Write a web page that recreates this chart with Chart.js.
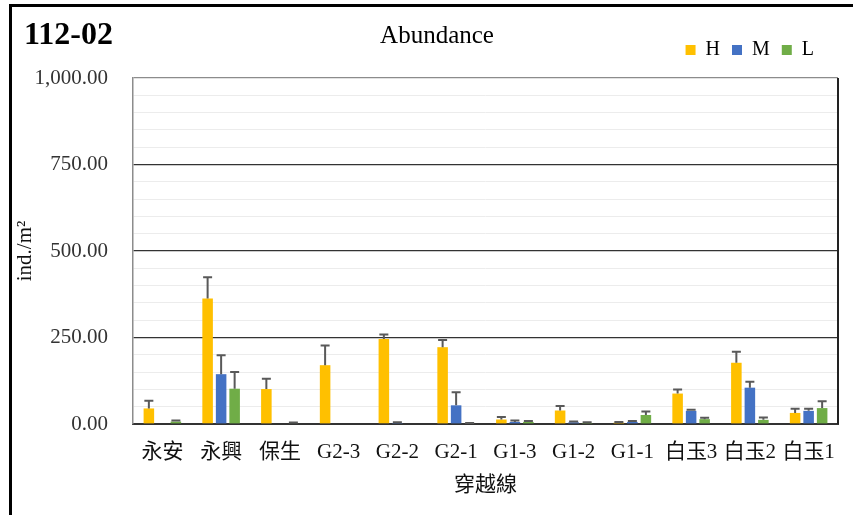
<!DOCTYPE html>
<html>
<head>
<meta charset="utf-8">
<script src="https://cdn.jsdelivr.net/npm/chart.js@4.4.1/dist/chart.umd.min.js"></script>
<style>
  html, body { margin: 0; padding: 0; background: #fff; }
  #wrap { width: 853px; height: 515px; }
</style>
</head>
<body>
<div id="wrap"><canvas id="chart"></canvas></div>
<script>
// data
const panelLabel = '112-02';
const chartTitle = 'Abundance';
const categories = ['永安', '永興', '保生', 'G2-3', 'G2-2', 'G2-1', 'G1-3', 'G1-2', 'G1-1', '白玉3', '白玉2', '白玉1'];
const valuesH = [45, 363, 101, 170, 246, 222, 13, 39, 4, 88, 177, 32];
const errorsH = [22, 61, 30, 57, 13, 21, 7, 13, 2, 12, 32, 12];
const valuesM = [0, 144, 0, 0, 3, 54, 6, 5, 6, 38, 105, 38];
const errorsM = [0, 55, 0, 0, 2, 38, 4, 2, 3, 3, 17, 6];
const valuesL = [7, 102, 2, 0, 0, 2, 6, 3, 26, 14, 12, 46];
const errorsL = [3, 48, 2, 0, 0, 1, 3, 2, 10, 4, 7, 20];
const yTicks = [0, 250, 500, 750, 1000];

const serif = "'Liberation Serif', 'Times New Roman', 'Noto Sans CJK TC', serif";

// error bars (one sided, cap on top)
const errorBars = {
  id: 'errorBars',
  afterDatasetsDraw(chart) {
    const ctx = chart.ctx;
    const y = chart.scales.y;
    ctx.save();
    ctx.strokeStyle = '#595959';
    ctx.lineWidth = 2;
    chart.data.datasets.forEach((ds, i) => {
      const meta = chart.getDatasetMeta(i);
      meta.data.forEach((bar, j) => {
        const err = ds.errors[j];
        if (!err) return;
        const top = y.getPixelForValue(ds.data[j] + err);
        ctx.beginPath();
        ctx.moveTo(bar.x, bar.y);
        ctx.lineTo(bar.x, top);
        ctx.moveTo(bar.x - 4.5, top);
        ctx.lineTo(bar.x + 4.5, top);
        ctx.stroke();
      });
    });
    ctx.restore();
  }
};

// legend sits a bit left of the plot's right edge
const legendShift = {
  id: 'legendShift',
  afterLayout(chart) {
    chart.legend.left -= 12;
    chart.legend.right -= 12;
  }
};

// frame, panel label and title
const frame = {
  id: 'frame',
  afterDraw(chart) {
    const {ctx, chartArea} = chart;
    ctx.save();
    ctx.strokeStyle = '#222';
    ctx.lineWidth = 2;
    ctx.beginPath();
    ctx.moveTo(chartArea.right, chartArea.top);
    ctx.lineTo(chartArea.right, chartArea.bottom);
    ctx.stroke();

    ctx.strokeStyle = '#000';
    ctx.lineWidth = 3;
    ctx.beginPath();
    ctx.moveTo(10.5, 515);
    ctx.lineTo(10.5, 5.5);
    ctx.lineTo(853, 5.5);
    ctx.stroke();

    ctx.fillStyle = '#000';
    ctx.textBaseline = 'alphabetic';
    ctx.textAlign = 'left';
    ctx.font = 'bold 32px ' + serif;
    ctx.fillText(panelLabel, 24, 44);
    ctx.textAlign = 'center';
    ctx.font = '25px ' + serif;
    ctx.fillText(chartTitle, 437, 43);
    ctx.restore();
  }
};

const ct = document.getElementById('chart');
new Chart(ct, {
  type: 'bar',
  data: {
    labels: categories,
    datasets: [
      { label: 'H', data: valuesH, errors: errorsH, backgroundColor: '#FFC000' },
      { label: 'M', data: valuesM, errors: errorsM, backgroundColor: '#4472C4' },
      { label: 'L', data: valuesL, errors: errorsL, backgroundColor: '#70AD47' }
    ]
  },
  options: {
    responsive: true,
    maintainAspectRatio: false,
    animation: false,
    devicePixelRatio: 1,
    categoryPercentage: 0.69,
    barPercentage: 0.78,
    layout: {
      padding: { top: 28, right: 15, bottom: 0, left: 0 }
    },
    scales: {
      x: {
        grid: { display: false, drawTicks: false },
        border: { color: '#333', width: 2 },
        ticks: { color: '#111', padding: 16, font: { family: serif, size: 21 } },
        title: {
          display: true,
          text: '穿越線',
          color: '#111',
          font: { family: serif, size: 21 },
          padding: { top: 0, bottom: 17 }
        },
        afterFit(scale) { scale.height = 91; }
      },
      y: {
        min: 0,
        max: 1000,
        grid: {
          drawTicks: false,
          color: (c) => c.tick.value === 1000 ? '#8c8c8c' : (yTicks.includes(c.tick.value) ? '#333' : '#ececec'),
          lineWidth: (c) => yTicks.includes(c.tick.value) ? 1.3 : 1
        },
        border: { color: '#8c8c8c', width: 1.5 },
        ticks: {
          stepSize: 50,
          autoSkip: false,
          padding: 25,
          color: '#333',
          font: { family: serif, size: 21 },
          callback: (v) => yTicks.includes(v) ? v.toLocaleString('en-US', { minimumFractionDigits: 2, maximumFractionDigits: 2 }) : ''
        },
        title: {
          display: true,
          text: 'ind./m²',
          color: '#111',
          font: { family: serif, size: 21 },
          padding: { top: 13, bottom: 0 }
        },
        afterFit(scale) { scale.width = 133; }
      }
    },
    plugins: {
      legend: {
        position: 'top',
        align: 'end',
        labels: {
          boxWidth: 10,
          boxHeight: 10,
          padding: 12,
          color: '#000',
          font: { family: serif, size: 20 }
        }
      },
      // spacer between legend and plot area
      subtitle: {
        display: true,
        text: '',
        weight: 500,
        padding: 0,
        font: { size: 8, lineHeight: 1 }
      },
      tooltip: { enabled: false }
    }
  },
  plugins: [errorBars, legendShift, frame]
});
</script>
</body>
</html>
